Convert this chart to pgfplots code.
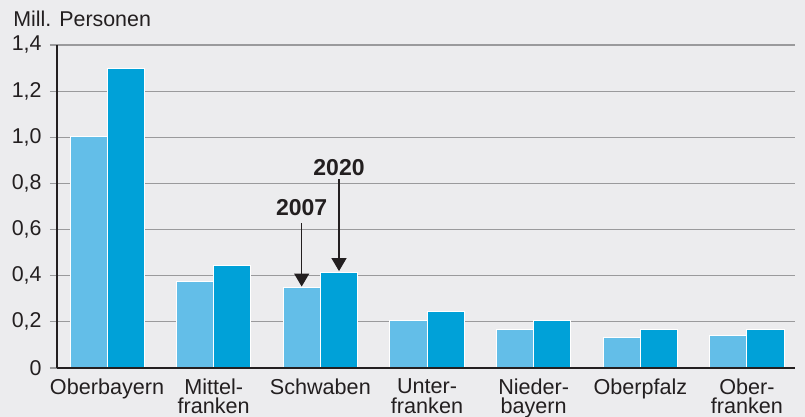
\documentclass[border=0pt]{standalone}
\usepackage{pgfplots}
\pgfplotsset{compat=1.18}
\usepackage{fontspec}
\setmainfont{Liberation Sans}
\usetikzlibrary{arrows.meta}
\definecolor{bg}{HTML}{ECECEE}
\definecolor{lightbar}{HTML}{63BEE8}
\definecolor{darkbar}{HTML}{00A1D8}
\definecolor{gridc}{HTML}{9A9A9C}
\definecolor{ink}{HTML}{231F20}
\begin{document}
\begin{tikzpicture}
\fill[bg] (0,0) rectangle (402.5pt,208.5pt);
\useasboundingbox (0,0) rectangle (402.5pt,208.5pt);
\node[anchor=base west, inner sep=0pt, font=\fontsize{10.7}{12}\selectfont, text=ink] at (6.5pt,195pt) {Mill. Personen};
\begin{axis}[
  at={(28.5pt,24.5pt)}, anchor=south west,
  scale only axis, width=369pt, height=161.5pt,
  xmin=-0.469, xmax=6.45, ymin=0, ymax=1.4,
  axis x line*=bottom, axis y line*=left,
  axis line style={ink, line width=1pt},
  x axis line style={-}, y axis line style={-, line width=0.7pt},
  ybar=0pt, bar width=0.347,
  xtick={0,1,2,3,4,5,6},
  xticklabels={Oberbayern,{Mittel-\\franken},Schwaben,{Unter-\\franken},{Nieder-\\bayern},Oberpfalz,{Ober-\\franken}},
  xtick style={draw=none},
  xticklabel style={align=center, font=\fontsize{10.8}{9.6}\selectfont, text=ink, inner sep=0pt, yshift=-1.8pt},
  ytick={0,0.2,0.4,0.6,0.8,1.0,1.2,1.4},
  yticklabels={0,{0,2},{0,4},{0,6},{0,8},{1,0},{1,2},{1,4}},
  yticklabel style={font=\fontsize{10.7}{12}\selectfont, text=ink, inner sep=0pt, xshift=-4pt},
  tick align=outside, major tick length=3.5pt,
  ytick style={gridc, line width=0.6pt},
  ymajorgrids, major grid style={gridc, line width=0.6pt},
  clip=false,
]
\addplot[fill=lightbar, draw=white, line width=0.5pt] coordinates {(0,1.005) (1,0.375) (2,0.351) (3,0.208) (4,0.169) (5,0.131) (6,0.143)};
\addplot[fill=darkbar, draw=white, line width=0.5pt] coordinates {(0,1.298) (1,0.443) (2,0.416) (3,0.247) (4,0.208) (5,0.165) (6,0.165)};
\draw[ink, line width=1pt] (axis cs:-0.469,0) -- (axis cs:6.45,0);
\draw[ink, line width=0.6pt, -{Triangle[width=7.5pt,length=6.5pt]}] (axis cs:1.825,0.628) -- (axis cs:1.825,0.353);
\draw[ink, line width=0.6pt, -{Triangle[width=7.5pt,length=6.5pt]}] (axis cs:2.175,0.819) -- (axis cs:2.175,0.42);
\node[font=\fontsize{11.5}{13}\selectfont\bfseries, text=ink, inner sep=0pt] at (axis cs:1.825,0.696) {2007};
\node[font=\fontsize{11.5}{13}\selectfont\bfseries, text=ink, inner sep=0pt] at (axis cs:2.175,0.869) {2020};
\end{axis}
\end{tikzpicture}
\end{document}
